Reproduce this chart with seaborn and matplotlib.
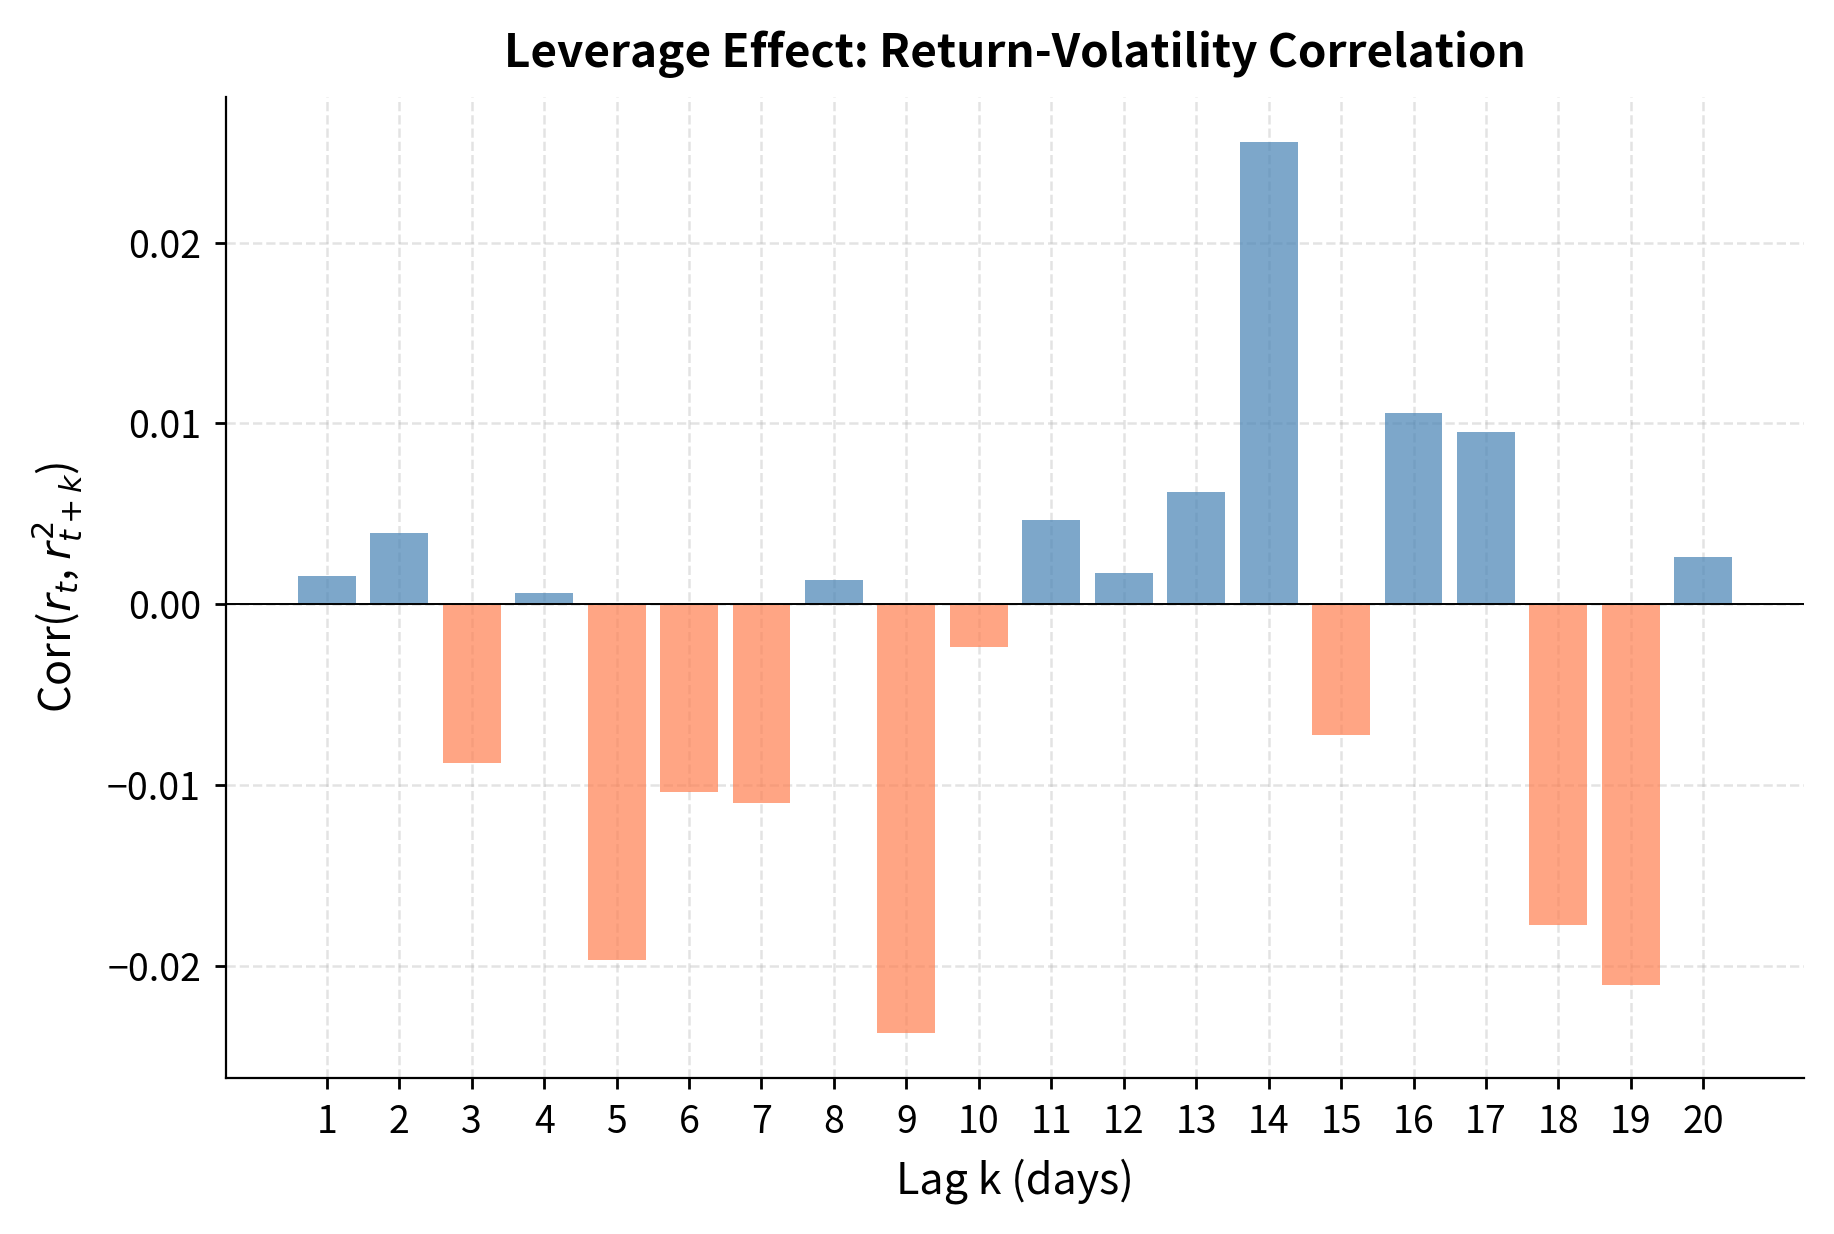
import numpy as np
import pandas as pd
import matplotlib
matplotlib.use("Agg")
import matplotlib.pyplot as plt
import seaborn as sns

lags = list(range(1, 21))
corr = [0.00155, 0.00396, -0.00877, 0.00065, -0.01968, -0.01035, -0.01097, 0.00135,
        -0.02370, -0.00234, 0.00467, 0.00175, 0.00623, 0.02558, -0.00725, 0.01058,
        0.00955, -0.01775, -0.02105, 0.00260]

sns.set_style("ticks")
plt.rcParams['font.family'] = ['Noto Sans CJK SC', 'DejaVu Sans']
for k in ['text.color', 'axes.labelcolor', 'xtick.color', 'ytick.color', 'axes.edgecolor']:
    plt.rcParams[k] = 'black'

df = pd.DataFrame({"lag": lags, "corr": corr})
df["sign"] = np.where(df["corr"] >= 0, "pos", "neg")

fig, ax = plt.subplots(figsize=(9.17, 6.17), dpi=200)
sns.barplot(data=df, x="lag", y="corr", hue="sign", native_scale=True,
            palette={"pos": "steelblue", "neg": "coral"}, alpha=0.7,
            width=0.8, dodge=False, legend=False, ax=ax, saturation=1,
            linewidth=0, edgecolor="none")
ax.axhline(0, color="black", lw=0.7)
ax.set_xticks(lags)
ax.set_xticklabels([str(l) for l in lags])
ax.margins(x=0.05, y=0.05)
ax.grid(True, linestyle="--", color="#b0b0b0", alpha=0.35, lw=0.9)
ax.set_axisbelow(True)
sns.despine(ax=ax)
ax.set_xlabel("Lag k (days)", fontsize=15.5, labelpad=6)
ax.set_ylabel(r"Corr($r_t$, $r^2_{t+k}$)", fontsize=15.5, labelpad=8)
ax.set_title("Leverage Effect: Return-Volatility Correlation", fontsize=16.5, fontweight="bold", pad=11)
ax.tick_params(labelsize=13.5, length=4, width=1, pad=5)
fig.tight_layout()
fig.savefig("out.png", dpi=200)
